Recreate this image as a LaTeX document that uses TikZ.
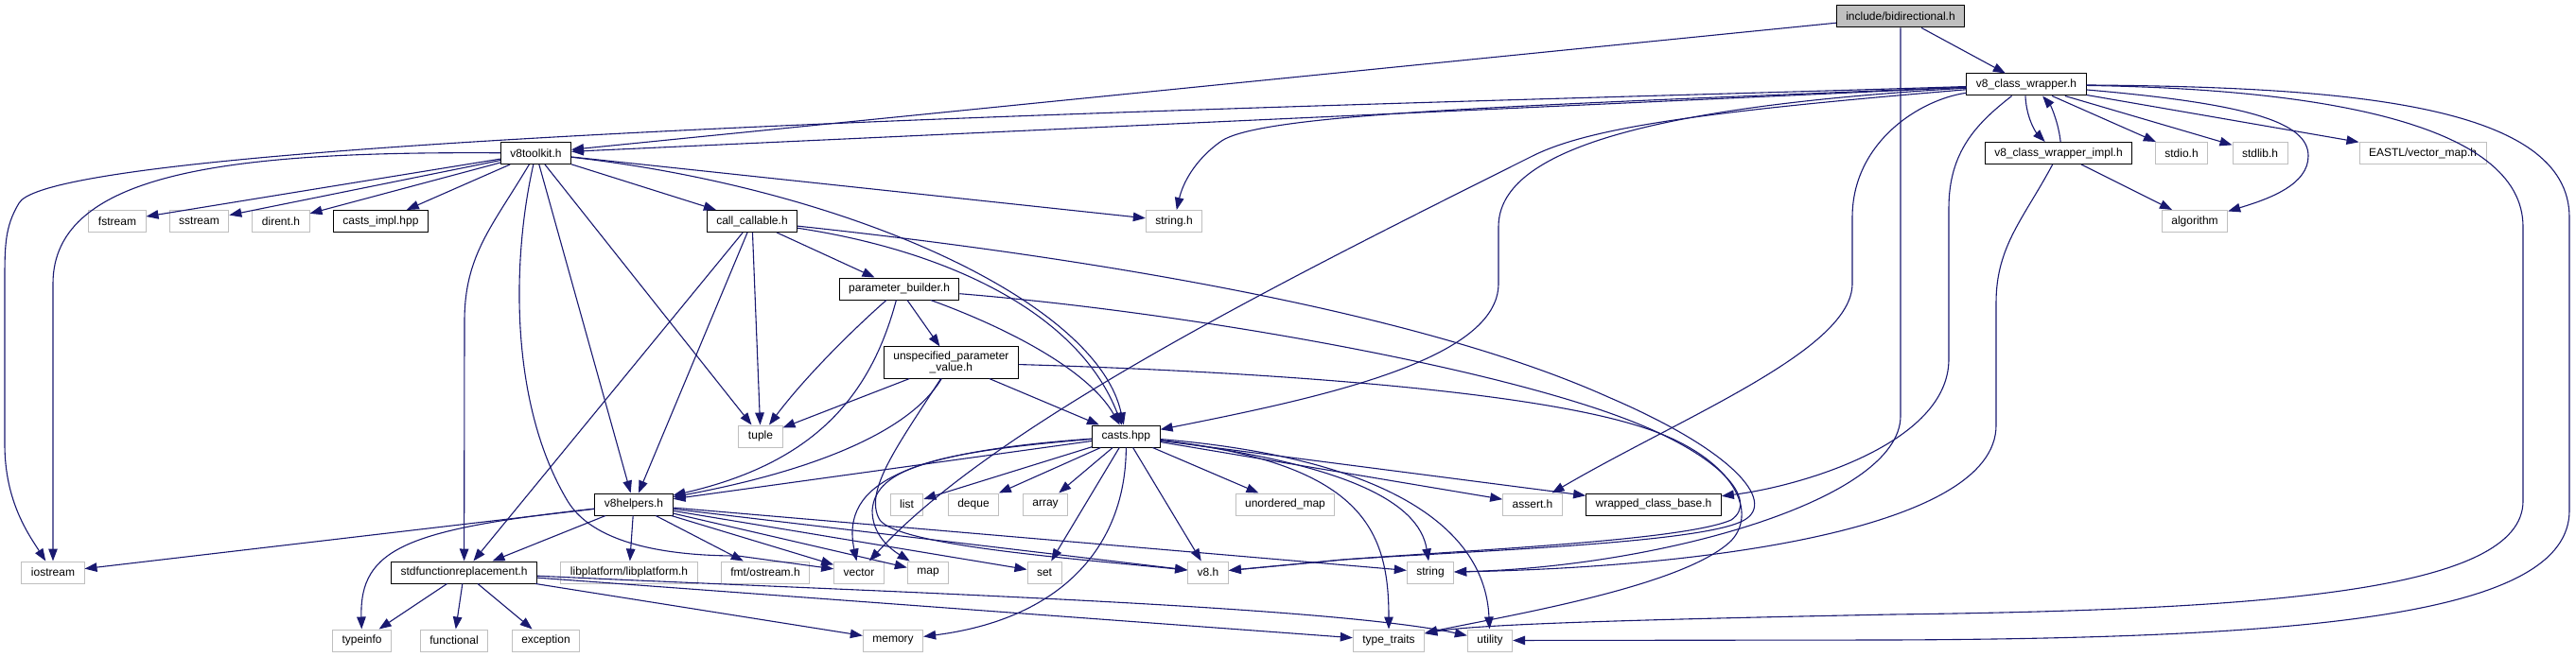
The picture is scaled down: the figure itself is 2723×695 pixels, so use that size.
\documentclass[tikz,border=0pt]{standalone}
\usepackage{fontspec}
\setmainfont{Liberation Sans}
\usepackage{tikz}
\usetikzlibrary{arrows.meta}
\definecolor{edgeblue}{HTML}{191970}
\definecolor{grey75}{HTML}{BFBFBF}

\begin{document}
\begin{tikzpicture}[x=1pt,y=-1pt,
  hdr/.style={draw=black,line width=1pt,fill=white,inner xsep=10pt,inner ysep=5pt,minimum height=23pt,align=center,font=\fontsize{12}{12}\selectfont},
  ext/.style={hdr,draw=grey75},
  rootfile/.style={hdr,fill=grey75},
  inc/.style={-{Triangle[length=13pt,width=9.5pt]},line width=1.1pt,edgeblue}]
 \useasboundingbox (0,0) rectangle (2723,695);
 \node[rootfile] (bd) at (2009,17.5) {include/bidirectional.h};
 \node[hdr] (cw) at (2142,89.5) {v8\_class\_wrapper.h};
 \node[hdr] (tk) at (566.5,162) {v8toolkit.h};
 \node[hdr] (ci) at (2176,162) {v8\_class\_wrapper\_impl.h};
 \node[ext] (sio) at (2306,162) {stdio.h};
 \node[ext] (slb) at (2389,162) {stdlib.h};
 \node[ext] (evm) at (2561,162) {EASTL/vector\_map.h};
 \node[ext] (fs) at (124,234) {fstream};
 \node[ext] (ss) at (210.5,234) {sstream};
 \node[ext] (dir) at (297,234) {dirent.h};
 \node[hdr] (cim) at (402.5,234) {casts\_impl.hpp};
 \node[hdr] (cc) at (795,234) {call\_callable.h};
 \node[ext] (strh) at (1241,234) {string.h};
 \node[ext] (alg) at (2320,234) {algorithm};
 \node[hdr] (pb) at (950.6,305.5) {parameter\_builder.h};
 \node[hdr] (upv) at (1005.4,383.5) {unspecified\_parameter\\\_value.h};
 \node[ext] (tup) at (804,461.5) {tuple};
 \node[hdr] (cst) at (1190.4,461.5) {casts.hpp};
 \node[hdr] (hlp) at (670,533.5) {v8helpers.h};
 \node[ext] (lst) at (958.5,533.5) {list};
 \node[ext] (dq) at (1029,533.5) {deque};
 \node[ext] (arr) at (1105,533.5) {array};
 \node[ext] (um) at (1358.5,533.5) {unordered\_map};
 \node[ext] (ast) at (1620,533.5) {assert.h};
 \node[hdr] (wcb) at (1748,533.5) {wrapped\_class\_base.h};
 \node[ext] (ios) at (56,605.5) {iostream};
 \node[hdr] (sfr) at (490.6,605.5) {stdfunctionreplacement.h};
 \node[ext] (lpl) at (665,605.5) {libplatform/libplatform.h};
 \node[ext] (fmt) at (809,605.5) {fmt/ostream.h};
 \node[ext] (vec) at (908,605.5) {vector};
 \node[ext] (map) at (981,605.5) {map};
 \node[ext] (set) at (1104,605.5) {set};
 \node[ext] (v8) at (1277,605.5) {v8.h};
 \node[ext] (str) at (1512,605.5) {string};
 \node[ext] (ti) at (382.6,677.5) {typeinfo};
 \node[ext] (fn) at (480,677.5) {functional};
 \node[ext] (exc) at (577,677.5) {exception};
 \node[ext] (mem) at (944,677.5) {memory};
 \node[ext] (tt) at (1468,677.5) {type\_traits};
 \node[ext] (ut) at (1575,677.5) {utility};
 \foreach \a/\b in {bd/cw,bd/tk,cw/tk,cw/sio,cw/slb,cw/evm,ci/alg,tk/fs,tk/ss,tk/dir,tk/cim,tk/cc,tk/strh,tk/hlp,tk/tup,
   cc/pb,cc/tup,cc/sfr,cc/hlp,pb/upv,upv/tup,upv/cst,cst/hlp,cst/lst,cst/dq,cst/arr,cst/um,cst/set,cst/v8,cst/ast,cst/wcb,
   hlp/ios,hlp/sfr,hlp/lpl,hlp/fmt,hlp/vec,hlp/map,hlp/set,hlp/v8,hlp/str,sfr/ti,sfr/fn,sfr/exc,sfr/mem,sfr/tt}
   \draw[inc] (\a)--(\b);
 \draw[inc] (cw) .. controls (1500,110) and (60,140) .. (20,215) .. controls (5,240) and (5,260) .. (5,300) -- (5,470) .. controls (5,530) and (30,565) .. (ios);
 \draw[inc] (tk) .. controls (250,160) and (56,180) .. (56,300) -- (ios);
 \draw[inc] (tk) .. controls (520,240) and (491,270) .. (491,340) -- (sfr);
 \draw[inc] (tk) .. controls (540,280) and (540,430) .. (600,530) .. controls (630,580) and (720,588) .. (780,588) -- (vec);
 \draw[inc] (tk) .. controls (900,200) and (1160,320) .. (cst);
 \draw[inc] (cw) .. controls (1600,112) and (1330,120) .. (1290,150) .. controls (1262,170) and (1250,195) .. (strh);
 \draw[inc] (cw) .. controls (1700,115) and (1584,170) .. (1584,240) -- (1584,300) .. controls (1584,380) and (1400,420) .. (cst);
 \draw[inc] (cw) .. controls (1800,118) and (1680,135) .. (1620,165) .. controls (1350,300) and (1050,450) .. (vec);
 \draw[inc] (cw) .. controls (2030,105) and (1958,150) .. (1958,230) -- (1958,300) .. controls (1958,370) and (1780,440) .. (ast);
 \draw[inc] (cw) .. controls (2090,130) and (2060,160) .. (2060,220) -- (2060,380) .. controls (2060,470) and (1900,515) .. (wcb);
 \draw[inc] (cw.-95) .. controls (2142,125) and (2152,140) .. (ci.140);
 \draw[inc] (ci.80) .. controls (2176,130) and (2168,112) .. (cw.-35);
 \draw[inc] (cw) .. controls (2380,110) and (2440,130) .. (2440,165) .. controls (2440,195) and (2400,210) .. (alg);
 \draw[inc] (cw) .. controls (2480,92) and (2716,110) .. (2716,230) -- (2716,540) .. controls (2716,650) and (2450,675) .. (2000,677) -- (ut);
 \draw[inc] (cw) .. controls (2450,94) and (2667,130) .. (2667,240) -- (2667,530) .. controls (2667,625) and (2400,645) .. (2000,650) .. controls (1750,655) and (1560,660) .. (tt);
 \draw[inc] (ci) .. controls (2140,230) and (2110,260) .. (2110,320) -- (2110,450) .. controls (2110,560) and (1800,600) .. (str);
 \draw[inc] (bd) -- (2009,440) .. controls (2009,530) and (1750,600) .. (str);
 \draw[inc] (cc) .. controls (1150,272) and (1500,330) .. (1700,420) .. controls (1840,480) and (1880,535) .. (1840,552) .. controls (1790,575) and (1550,583) .. (1420,592) -- (v8);
 \draw[inc] (pb) .. controls (1250,330) and (1560,385) .. (1710,440) .. controls (1820,480) and (1860,530) .. (1830,550) .. controls (1780,572) and (1550,582) .. (1420,592) -- (v8);
 \draw[inc] (upv) .. controls (1300,392) and (1600,410) .. (1730,450) .. controls (1830,480) and (1860,540) .. (1830,572) .. controls (1780,620) and (1600,650) .. (tt);
 \draw[inc] (upv) .. controls (950,470) and (912,520) .. (930,550) .. controls (950,578) and (1150,592) .. (v8);
 \draw[inc] (upv) .. controls (960,460) and (850,500) .. (hlp);
 \draw[inc] (pb) .. controls (920,420) and (860,490) .. (hlp);
 \draw[inc] (pb) .. controls (900,350) and (850,400) .. (tup);
 \draw[inc] (pb) .. controls (1060,345) and (1150,390) .. (cst);
 \draw[inc] (cc) .. controls (1000,265) and (1140,330) .. (cst);
 \draw[inc] (cst) .. controls (960,478) and (888,510) .. (vec);
 \draw[inc] (cst) .. controls (990,478) and (925,495) .. (922,540) .. controls (922,565) and (940,580) .. (map);
 \draw[inc] (cst) .. controls (1190,580) and (1120,655) .. (mem);
 \draw[inc] (cst) .. controls (1420,490) and (1500,530) .. (str);
 \draw[inc] (cst) .. controls (1440,490) and (1468,560) .. (tt);
 \draw[inc] (cst) .. controls (1470,485) and (1570,560) .. (ut);
 \draw[inc] (hlp) .. controls (430,560) and (380,580) .. (ti);
 \draw[inc] (sfr) .. controls (900,625) and (1400,640) .. (ut);
\end{tikzpicture}
\end{document}
